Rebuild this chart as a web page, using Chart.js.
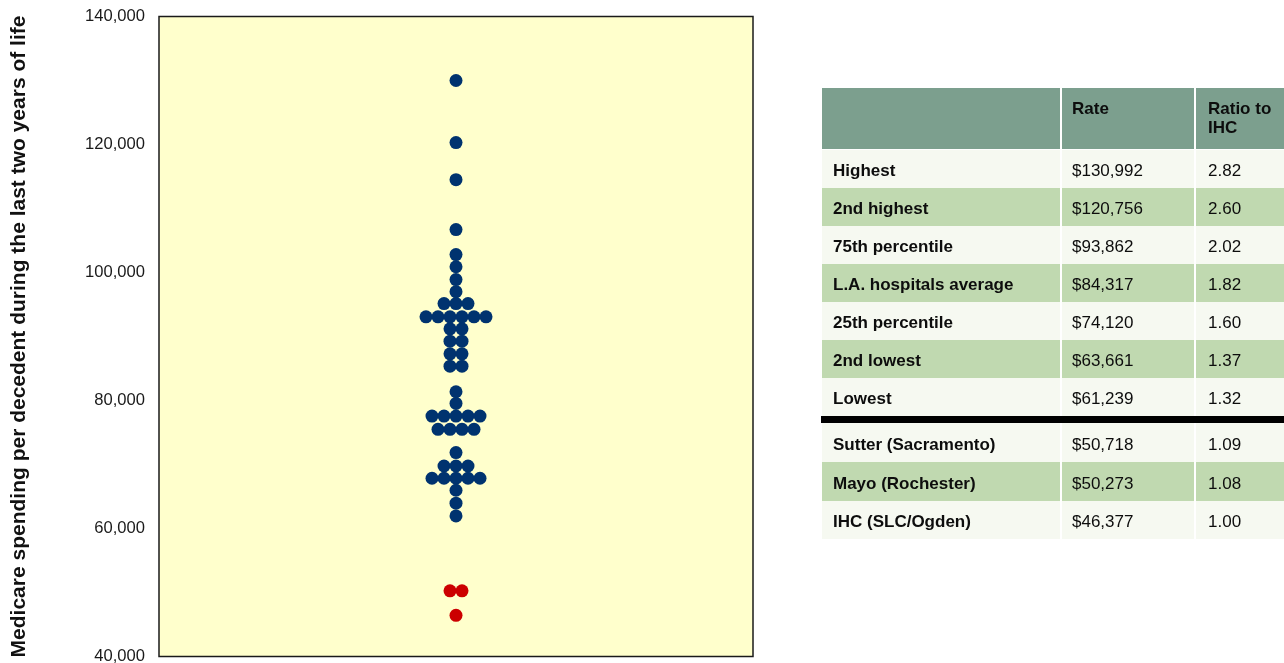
<!DOCTYPE html>
<html>
<head>
<meta charset="utf-8">
<script src="https://cdn.jsdelivr.net/npm/chart.js@4.4.1/dist/chart.umd.min.js"></script>
<style>
  html, body { margin:0; padding:0; background:#ffffff; width:1284px; height:663px; overflow:hidden;
    font-family:"Liberation Sans", Arial, sans-serif; }
  #wrap { position:absolute; left:0; top:0; width:760px; height:663px; }
  #tbl { position:absolute; left:0; top:0; width:1284px; height:663px; }
  .cell { position:absolute; box-sizing:border-box; font-size:17px; color:#0d0d0d; white-space:nowrap; overflow:hidden; }
  .b { font-weight:bold; }
</style>
</head>
<body>
<div id="wrap"><canvas id="c" width="760" height="663"></canvas></div>
<div id="tbl"></div>
<script>
// ---------- DATA ----------
// Y-axis ticks
const tickValues = [40000, 60000, 80000, 100000, 120000, 140000];
const tickLabels = ["40,000", "60,000", "80,000", "100,000", "120,000", "140,000"];
const yTitle = "Medicare spending per decedent during the last two years of life";

// L.A. hospitals: stacked dot rows (value of row, number of hospitals in row)
const laRowValues = [130000, 120300, 114500, 106700, 102800, 100900, 98900, 97000, 95150, 93070,
                     91200, 89270, 87300, 85370, 81370, 79550, 77570, 75490, 71860, 69770,
                     67850, 65980, 63950, 61970];
const laRowCounts = [1, 1, 1, 1, 1, 1, 1, 1, 3, 6,
                     2, 2, 2, 2, 1, 1, 5, 4, 1, 3,
                     5, 1, 1, 1];

// Benchmark hospitals (Sutter, Mayo, IHC)
const benchRowValues = [50260, 46430];
const benchRowCounts = [2, 1];

// Table
const tableHeader = ["", "Rate", "Ratio to<br>IHC"];
const rowLabels = ["Highest", "2nd highest", "75th percentile", "L.A. hospitals average", "25th percentile",
                   "2nd lowest", "Lowest", "Sutter (Sacramento)", "Mayo (Rochester)", "IHC (SLC/Ogden)"];
const rowRates  = ["$130,992", "$120,756", "$93,862", "$84,317", "$74,120",
                   "$63,661", "$61,239", "$50,718", "$50,273", "$46,377"];
const rowRatios = ["2.82", "2.60", "2.02", "1.82", "1.60", "1.37", "1.32", "1.09", "1.08", "1.00"];

// ---------- CHART ----------
function swarm(values, counts) {
  const pts = [];
  values.forEach((v, i) => {
    const n = counts[i];
    for (let k = 0; k < n; k++) pts.push({ x: (k - (n - 1) / 2) * 2, y: v });
  });
  return pts;
}

const areaPlugin = {
  id: 'area',
  beforeDraw(chart) {
    const { ctx, chartArea: a } = chart;
    ctx.save();
    ctx.fillStyle = '#ffffcc';
    ctx.fillRect(a.left, a.top, a.right - a.left, a.bottom - a.top);
    ctx.restore();
  },
  beforeDatasetsDraw(chart) {
    const { ctx, chartArea: a } = chart;
    ctx.save();
    ctx.strokeStyle = '#1a1a1a';
    ctx.lineWidth = 1.5;
    ctx.strokeRect(a.left, a.top, a.right - a.left, a.bottom - a.top);
    ctx.restore();
  }
};

new Chart(document.getElementById('c'), {
  type: 'scatter',
  data: {
    datasets: [
      { data: swarm(laRowValues, laRowCounts), backgroundColor: '#00336f', borderWidth: 0,
        pointRadius: 6.5, pointHoverRadius: 6.5 },
      { data: swarm(benchRowValues, benchRowCounts), backgroundColor: '#cc0000', borderWidth: 0,
        pointRadius: 6.5, pointHoverRadius: 6.5 }
    ]
  },
  options: {
    responsive: false,
    animation: false,
    devicePixelRatio: 1,
    layout: { padding: { left: 0, top: 16.5, right: 7, bottom: 4.5 } },
    plugins: { legend: { display: false }, tooltip: { enabled: false } },
    scales: {
      x: { type: 'linear', display: false, min: -49.5, max: 49.5 },
      y: {
        type: 'linear', min: 40000, max: 140000,
        afterBuildTicks(s) { s.ticks = tickValues.map(v => ({ value: v })); },
        ticks: {
          padding: 14, color: '#1a1a1a',
          font: { family: 'Liberation Sans', size: 16.6 },
          callback: (v) => tickLabels[tickValues.indexOf(v)]
        },
        grid: { display: false, drawTicks: false },
        border: { display: false },
        title: {
          display: true, text: yTitle, color: '#111',
          font: { family: 'Liberation Sans', size: 21, weight: 'bold' },
          padding: { top: 7, bottom: 0 }
        },
        afterFit(s) { s.width = 159; s.paddingTop = 0; s.paddingBottom = 0; }
      }
    }
  },
  plugins: [areaPlugin]
});

// ---------- TABLE ----------
const tbl = document.getElementById('tbl');
const colLeft = [822, 1062, 1196];
const colWidth = [238, 132, 88];
const colPad = [11, 10, 12];
const headerBg = '#7c9f8e', lightBg = '#f6f9f1', greenBg = '#c0d9b0';
const rowBgs = [lightBg, greenBg, lightBg, greenBg, lightBg, greenBg, lightBg, lightBg, greenBg, lightBg];
const rowTops = [150, 188, 226, 264, 302, 340, 378, 423, 462, 501];
const rowHeights = [38, 38, 38, 38, 38, 38, 38, 39, 39, 38];

function addCell(x, y, w, h, bg, html, pad, bold, lh, padTop) {
  const d = document.createElement('div');
  d.className = 'cell' + (bold ? ' b' : '');
  d.style.left = x + 'px'; d.style.top = y + 'px';
  d.style.width = w + 'px'; d.style.height = h + 'px';
  d.style.background = bg;
  d.style.paddingLeft = pad + 'px';
  d.style.lineHeight = lh + 'px';
  if (padTop) d.style.paddingTop = padTop + 'px';
  d.innerHTML = html;
  tbl.appendChild(d);
}
// header
for (let c = 0; c < 3; c++) addCell(colLeft[c], 88, colWidth[c], 61, headerBg, tableHeader[c], colPad[c], true, 19, 11);
// rows
rowLabels.forEach((lab, r) => {
  const vals = [lab, rowRates[r], rowRatios[r]];
  for (let c = 0; c < 3; c++) addCell(colLeft[c], rowTops[r], colWidth[c], rowHeights[r], rowBgs[r], vals[c], colPad[c], c === 0, rowHeights[r] - 2, 3);
});
// separator bar
const bar = document.createElement('div');
bar.style.cssText = 'position:absolute;left:821px;top:416px;width:463px;height:7px;background:#000;';
tbl.appendChild(bar);
</script>
</body>
</html>
